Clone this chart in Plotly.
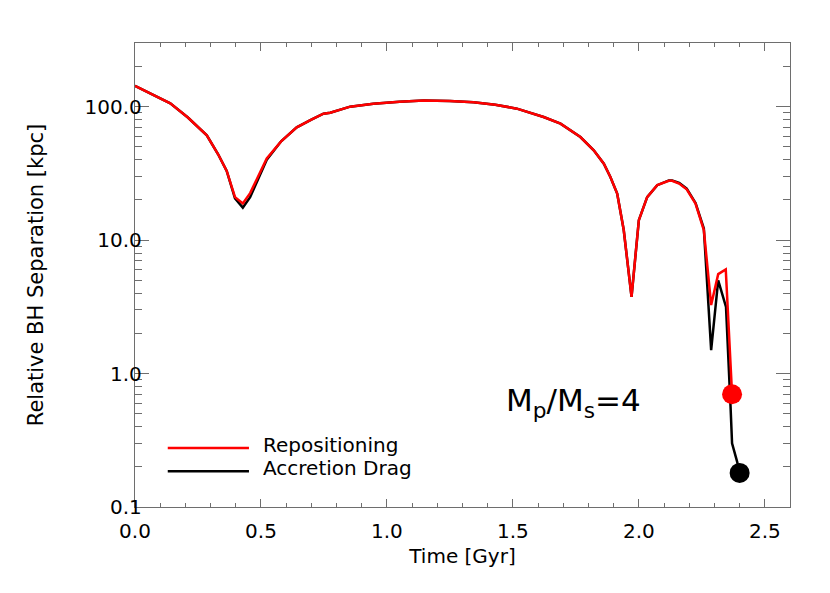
import numpy as np
import plotly.graph_objects as go

# time [Gyr] and relative BH separation [kpc]
time_repos = [0.0, 0.07, 0.14, 0.21, 0.285, 0.33, 0.364, 0.397, 0.428, 0.457,
              0.49, 0.523, 0.58, 0.642, 0.70, 0.748, 0.775, 0.854, 0.946, 1.05,
              1.146, 1.25, 1.344, 1.43, 1.516, 1.622, 1.689, 1.768, 1.821, 1.861,
              1.887, 1.914, 1.940, 1.971, 2.0, 2.033, 2.073, 2.119, 2.132, 2.16,
              2.19, 2.225, 2.258, 2.287, 2.315, 2.345, 2.37]
sep_repos = [143, 124, 106, 83, 61, 44, 33, 21, 18.8, 22.5,
             30, 41, 55, 70, 80, 88.6, 90, 100, 105, 109,
             111, 110.5, 108, 103.5, 96.6, 83.6, 74.6, 59.2, 47.1, 37.4,
             29.7, 22.3, 11.9, 3.76, 14.1, 21, 25.8, 27.8, 27.8, 26.5,
             24, 18.8, 11.9, 3.26, 5.56, 6.03, 0.70]

time_drag = [0.0, 0.07, 0.14, 0.21, 0.285, 0.33, 0.364, 0.397, 0.428, 0.457,
             0.49, 0.523, 0.58, 0.642, 0.70, 0.748, 0.775, 0.854, 0.946, 1.05,
             1.146, 1.25, 1.344, 1.43, 1.516, 1.622, 1.689, 1.768, 1.821, 1.861,
             1.887, 1.914, 1.940, 1.971, 2.0, 2.033, 2.073, 2.119, 2.132, 2.16,
             2.19, 2.225, 2.258, 2.287, 2.315, 2.346, 2.364, 2.370, 2.39, 2.40]
sep_drag = [143, 124, 106, 83, 61, 44, 33, 20.5, 17.5, 21,
            29, 40, 55, 70, 80, 88.6, 90, 100, 105, 109,
            111, 110.5, 108, 103.5, 96.6, 83.6, 74.6, 59.2, 47.1, 37.4,
            29.7, 22.3, 11.9, 3.76, 14.1, 21, 25.8, 28, 28, 26.8,
            24.3, 19, 12.2, 1.5, 5.0, 3.16, 0.565, 0.30, 0.219, 0.18]

# final points
end_time = [2.37, 2.40]
end_sep = [0.70, 0.18]
end_colors = ["#ff0000", "#000000"]

legend_names = ["Repositioning", "Accretion Drag"]
line_colors = ["#ff0000", "#000000"]

xtick_vals = [0.0, 0.5, 1.0, 1.5, 2.0, 2.5]
xtick_text = ["0.0", "0.5", "1.0", "1.5", "2.0", "2.5"]
ytick_vals = [0.1, 1, 10, 100]
ytick_text = ["0.1", "1.0", "10.0", "100.0"]

FONT = "DejaVu Sans"
AXCOL = "#6e6e6e"

fig = go.Figure()
fig.add_trace(go.Scatter(x=time_drag, y=sep_drag, mode="lines",
                         line=dict(color=line_colors[1], width=2.5),
                         showlegend=False))
fig.add_trace(go.Scatter(x=time_repos, y=sep_repos, mode="lines",
                         line=dict(color=line_colors[0], width=2.5),
                         showlegend=False))
fig.add_trace(go.Scatter(x=end_time, y=end_sep, mode="markers",
                         marker=dict(color=end_colors, size=20, line_width=0),
                         showlegend=False))

# hand-drawn legend (long line samples like the original)
for i, (name, col) in enumerate(zip(legend_names, line_colors)):
    yy = 0.133 - i * 0.050
    fig.add_shape(type="line", xref="paper", yref="paper",
                  x0=0.050, x1=0.174, y0=yy - 0.006, y1=yy - 0.006,
                  line=dict(color=col, width=2.5))
    fig.add_annotation(xref="paper", yref="paper", x=0.193, y=yy,
                       xanchor="left", yanchor="middle", showarrow=False,
                       text=name,
                       font=dict(family=FONT, size=20, color="black"))

fig.add_annotation(xref="x", yref="y", x=1.74, y=-0.22, showarrow=False,
                   xanchor="center", yanchor="middle",
                   text="M<sub>p</sub>/M<sub>s</sub>=4",
                   font=dict(family=FONT, size=31, color="black"))

fig.update_xaxes(range=[0, 2.6], tickvals=xtick_vals, ticktext=xtick_text,
                 ticks="inside", ticklen=8, tickcolor=AXCOL, tickwidth=1,
                 minor=dict(dtick=0.1, ticks="inside", ticklen=4,
                            tickcolor=AXCOL, showgrid=False),
                 showline=True, linecolor=AXCOL, linewidth=1.3, mirror="allticks",
                 showgrid=False, zeroline=False, ticklabelstandoff=6,
                 title=dict(text="Time [Gyr]",
                            font=dict(family=FONT, size=20),
                            standoff=6),
                 tickfont=dict(family=FONT, size=20, color="black"))
fig.update_yaxes(type="log", range=[-1, np.log10(300)],
                 tickvals=ytick_vals, ticktext=ytick_text,
                 ticks="inside", ticklen=14, tickcolor=AXCOL, tickwidth=1,
                 minor=dict(dtick="D1", ticks="inside", ticklen=7,
                            tickcolor=AXCOL, showgrid=False),
                 showline=True, linecolor=AXCOL, linewidth=1.3, mirror="allticks",
                 showgrid=False, zeroline=False, ticklabelstandoff=-12,
                 title=dict(text="Relative BH Separation [kpc]",
                            font=dict(family=FONT, size=21),
                            standoff=35),
                 tickfont=dict(family=FONT, size=20, color="black"))

fig.update_layout(width=830, height=593,
                  margin=dict(l=127, r=48, t=35, b=94),
                  plot_bgcolor="white", paper_bgcolor="white",
                  font=dict(family=FONT, color="black"),
                  showlegend=False)

fig.write_html("out.html")
